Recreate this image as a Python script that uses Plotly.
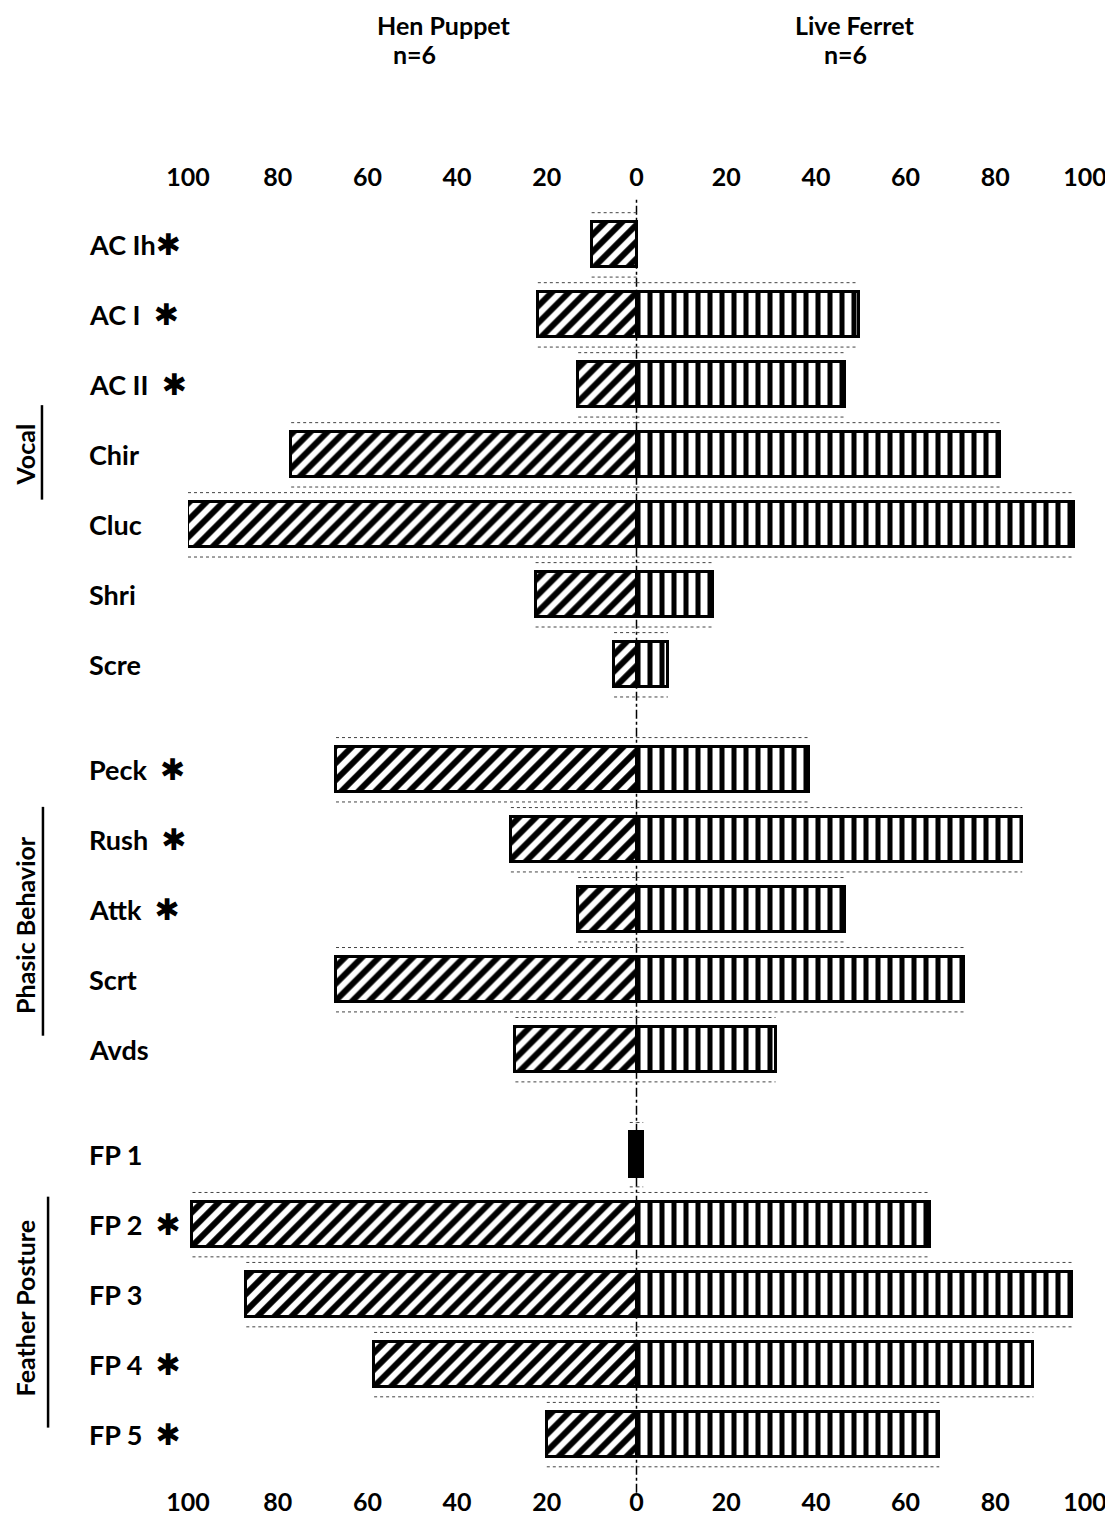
import plotly.graph_objects as go

# ---------------- data ----------------
categories = ["AC Ih*", "AC I *", "AC II *", "Chir", "Cluc", "Shri", "Scre",
              "Peck *", "Rush *", "Attk *", "Scrt", "Avds",
              "FP 1", "FP 2 *", "FP 3", "FP 4 *", "FP 5 *"]
groups = ["Vocal"] * 7 + ["Phasic Behavior"] * 5 + ["Feather Posture"] * 5
hen_puppet = [10, 22, 13, 77, 100, 22.5, 5, 67, 28, 13, 67, 27, 1.5, 99, 87, 58.5, 20]
live_ferret = [0, 49.5, 46.5, 81, 97.5, 17, 7, 38.5, 86, 46.5, 73, 31, 1.5, 65.5, 97, 88.5, 67.5]
tick_values = [-100, -80, -60, -40, -20, 0, 20, 40, 60, 80, 100]
tick_labels = ["100", "80", "60", "40", "20", "0", "20", "40", "60", "80", "100"]
solid_rows = ["FP 1"]

# y positions: one slot per row, half slot extra between groups
group_order = []
for g in groups:
    if g not in group_order:
        group_order.append(g)
ypos = [i + 0.5 * group_order.index(g) for i, g in enumerate(groups)]

FONT = "Lato, 'Open Sans', sans-serif"
BAR_W = 0.64

fig = go.Figure()

def split(vals, sign):
    pat_y, pat_x, sol_y, sol_x = [], [], [], []
    for c, y, v in zip(categories, ypos, vals):
        if c in solid_rows:
            sol_y.append(y); sol_x.append(sign * v)
        else:
            pat_y.append(y); pat_x.append(sign * v)
    return pat_y, pat_x, sol_y, sol_x

for vals, sign, shape, size, sol, name in ((hen_puppet, -1, "/", 12, 0.5, "Hen Puppet"),
                                           (live_ferret, 1, "|", 12, 0.42, "Live Ferret")):
    py, px, sy, sx = split(vals, sign)
    fig.add_trace(go.Bar(
        y=py, x=px, orientation="h", width=BAR_W, name=name,
        marker=dict(color="white", line=dict(color="black", width=3),
                    pattern=dict(shape=shape, fgcolor="black", bgcolor="white",
                                 fgopacity=1, size=size, solidity=sol)),
        showlegend=False,
    ))
    fig.add_trace(go.Bar(
        y=sy, x=sx, orientation="h", width=BAR_W, name=name,
        marker=dict(color="black", line=dict(color="black", width=3)),
        showlegend=False,
    ))

# faint dotted guide lines above / below each bar
gx, gy = [], []
for y, h, f in zip(ypos, hen_puppet, live_ferret):
    for off in (-0.46, 0.46):
        if h > 0:
            gx += [-h, 0, None]; gy += [y + off, y + off, None]
        if f > 0:
            gx += [0, f, None]; gy += [y + off, y + off, None]
fig.add_trace(go.Scatter(x=gx, y=gy, mode="lines",
                         line=dict(color="#444", width=1, dash="dot"),
                         hoverinfo="skip", showlegend=False))

# zero line
fig.add_shape(type="line", xref="x", yref="paper", x0=0, x1=0, y0=-0.006, y1=1.0,
              line=dict(color="black", width=1.5, dash="dashdot"), layer="below")

# category labels
STAR = "<span style='font-family:DejaVu Sans;font-size:30px'>\u2731</span>"
for y, c in zip(ypos, categories):
    txt = c.replace(" *", "\u00a0\u00a0*").replace("*", STAR)
    fig.add_annotation(x=-0.1126, xref="paper", y=y, yref="y", text="<b>" + txt + "</b>",
                       showarrow=False, xanchor="left", yanchor="middle",
                       font=dict(family=FONT, size=27, color="black"))

# group labels with underline
group_geom = {
    "Vocal": (2.29, 3.64, 3.0, -0.1628),
    "Phasic Behavior": (8.03, 11.3, 9.72, -0.1617),
    "Feather Posture": (13.6, 16.9, 15.2, -0.156),
}
for g in group_order:
    y0, y1, yc, xl = group_geom[g]
    fig.add_annotation(x=-0.182, xref="paper", y=yc, yref="y", text="<b>" + g + "</b>",
                       textangle=-90, showarrow=False, xanchor="center", yanchor="middle",
                       font=dict(family=FONT, size=25, color="black"))
    fig.add_shape(type="line", xref="paper", yref="y", x0=xl, x1=xl,
                  y0=y0, y1=y1, line=dict(color="black", width=2.5))

# header
for name, xc, xn in (("Hen Puppet", -43, -49.5), ("Live Ferret", 48.5, 46.5)):
    fig.add_annotation(x=xc, xref="x", y=1.1348, yref="paper", text="<b>" + name + "</b>",
                       showarrow=False, xanchor="center", yanchor="middle",
                       font=dict(family=FONT, size=25, color="black"))
    fig.add_annotation(x=xn, xref="x", y=1.1115, yref="paper", text="<b>n=6</b>",
                       showarrow=False, xanchor="center", yanchor="middle",
                       font=dict(family=FONT, size=25, color="black"))

axis_common = dict(range=[-100, 100], tickvals=tick_values,
                   ticktext=["<b>" + t + "</b>" for t in tick_labels],
                   showgrid=False, zeroline=False, showline=False, ticks="",
                   automargin=False,
                   tickfont=dict(family=FONT, size=25, color="black"))
fig.update_layout(
    width=1105, height=1515,
    margin=dict(l=180, r=28, t=190, b=38),
    paper_bgcolor="white", plot_bgcolor="white",
    barmode="overlay", bargap=0,
    xaxis=dict(**axis_common, side="bottom"),
    xaxis2=dict(**axis_common, side="top", overlaying="x", matches="x",
                ticklabelstandoff=6),
    yaxis=dict(range=[17.72, -0.67], showticklabels=False, showgrid=False,
               zeroline=False, showline=False, ticks="", automargin=False),
)
# invisible trace to activate top axis
fig.add_trace(go.Scatter(x=[0], y=[0], xaxis="x2", mode="markers",
                         marker=dict(opacity=0), hoverinfo="skip", showlegend=False))

fig.write_html("out.html")
